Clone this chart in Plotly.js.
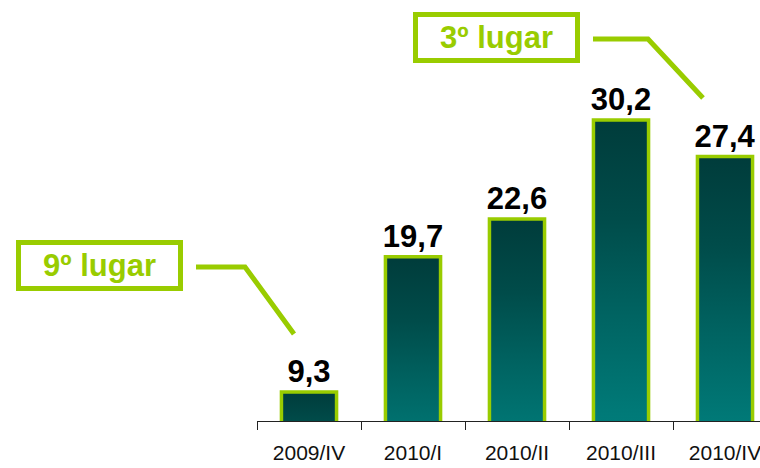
<!DOCTYPE html>
<html>
<head>
<meta charset="utf-8">
<script src="https://cdn.plot.ly/plotly-3.0.1.min.js"></script>
<style>
  html, body { margin: 0; padding: 0; background: #fff; }
  #chart { width: 760px; height: 468px; }
</style>
</head>
<body>
<div id="chart"></div>
<script>
var CHART = document.getElementById("chart");

var periods = ["2009/IV", "2010/I", "2010/II", "2010/III", "2010/IV"];
var values = [9.3, 19.7, 22.6, 30.2, 27.4];
var labels = values.map(function (v) { return v.toFixed(1).replace(".", ","); });

var lime = "#99cc00";

// plot area in pixels, used to place the callouts
var L = 257, B = 47, W = 760 - L, H = 468 - B;
function px(x) { return (x - L) / W; }
function py(y) { return (H - y) / H; }

var data = [
    {
        x: periods,
        y: values,
        text: labels,
        type: "bar",
        width: 0.53,
        textposition: "outside",
        constraintext: "none",
        cliponaxis: false,
        textfont: { family: "Liberation Sans, Arial, sans-serif", size: 31, color: "#000", weight: "bold" },
        marker: { color: "#006060", line: { color: lime, width: 3.5 } },
        hoverinfo: "none"
    }
];

var layout = {
    width: 760,
    height: 468,
    margin: { l: L, r: 0, t: 0, b: B },
    paper_bgcolor: "#fff",
    plot_bgcolor: "#fff",
    showlegend: false,
    font: { family: "Liberation Sans, Arial, sans-serif" },
    xaxis: {
        type: "category",
        range: [-0.5, -0.5 + W / 104],
        tickson: "boundaries",
        ticks: "outside",
        ticklen: 8,
        tickcolor: "#222",
        tickwidth: 1,
        showline: true,
        linecolor: "#222",
        linewidth: 1,
        showgrid: false,
        zeroline: false,
        ticklabelstandoff: 13,
        tickfont: { size: 21, color: "#111" }
    },
    yaxis: {
        range: [7.07, 7.07 + H / 13.01],
        visible: false,
        showgrid: false,
        zeroline: false
    },
    annotations: [
        {
            text: "9º lugar", xref: "paper", yref: "paper",
            x: px(99.5), y: py(265.5), xanchor: "center", yanchor: "middle", showarrow: false,
            width: 157, height: 41, borderpad: 0, borderwidth: 5,
            bordercolor: lime, bgcolor: "#fff",
            font: { size: 31, color: lime, weight: "bold" }
        },
        {
            text: "3º lugar", xref: "paper", yref: "paper",
            x: px(496.5), y: py(38), xanchor: "center", yanchor: "middle", showarrow: false,
            width: 157, height: 41, borderpad: 0, borderwidth: 5,
            bordercolor: lime, bgcolor: "#fff",
            font: { size: 31, color: lime, weight: "bold" }
        }
    ],
    shapes: [
        {
            type: "path", xref: "paper", yref: "paper",
            path: "M" + px(196) + "," + py(267) + " L" + px(245) + "," + py(267) + " L" + px(294) + "," + py(334),
            line: { color: lime, width: 5 }
        },
        {
            type: "path", xref: "paper", yref: "paper",
            path: "M" + px(593) + "," + py(39) + " L" + px(648) + "," + py(39) + " L" + px(703) + "," + py(98),
            line: { color: lime, width: 5 }
        }
    ]
};

var config = { staticPlot: true };

Plotly.newPlot(CHART, data, layout, config).then(function () {
    // vertical gradient on each bar: dark teal at top, lighter teal at bottom
    var svg = CHART.querySelector("svg.main-svg");
    var ns = "http://www.w3.org/2000/svg";
    var defs = svg.querySelector("defs") || svg.insertBefore(document.createElementNS(ns, "defs"), svg.firstChild);
    var grad = document.createElementNS(ns, "linearGradient");
    grad.setAttribute("id", "barGrad");
    grad.setAttribute("x1", "0"); grad.setAttribute("y1", "0");
    grad.setAttribute("x2", "0"); grad.setAttribute("y2", "1");
    [["0", "#003c3b"], ["0.25", "#004c4a"], ["0.5", "#006462"], ["0.75", "#007a78"], ["1", "#008583"]].forEach(function (s) {
        var stop = document.createElementNS(ns, "stop");
        stop.setAttribute("offset", s[0]);
        stop.setAttribute("stop-color", s[1]);
        grad.appendChild(stop);
    });
    defs.appendChild(grad);
    CHART.querySelectorAll(".trace.bars .point path").forEach(function (p) {
        p.style.fill = "url(#barGrad)";
    });
});
</script>
</body>
</html>
